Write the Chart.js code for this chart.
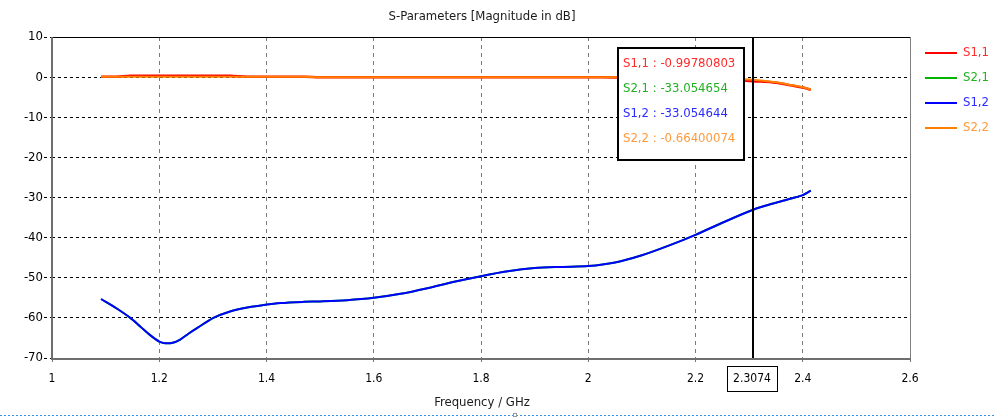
<!DOCTYPE html>
<html>
<head>
<meta charset="utf-8">
<title>S-Parameters</title>
<script src="https://cdn.jsdelivr.net/npm/chart.js@4/dist/chart.umd.min.js"></script>
<style>
  html, body { margin: 0; padding: 0; background: #ffffff; }
  #wrap { position: relative; width: 995px; height: 419px; }
</style>
</head>
<body>
<div id="wrap"><canvas id="chart" width="995" height="419"></canvas></div>
<script>
// Frequency samples (GHz)
const freq = [1.0915, 1.12, 1.146, 1.165, 1.183, 1.2, 1.211, 1.225, 1.239, 1.255,
  1.271, 1.301, 1.332, 1.364, 1.394, 1.426, 1.47, 1.5, 1.55, 1.6,
  1.65, 1.7, 1.75, 1.8, 1.85, 1.9, 1.95, 2.0, 2.05, 2.1,
  2.15, 2.2, 2.25, 2.3074, 2.35, 2.38, 2.4, 2.415];

// Magnitudes in dB
const s11 = [0.1, 0.12, 0.35, 0.35, 0.35, 0.35, 0.35, 0.35, 0.35, 0.35,
  0.35, 0.35, 0.35, 0.1, 0.1, 0.1, 0.1, -0.05, -0.05, -0.05,
  -0.05, -0.05, -0.05, -0.05, -0.05, -0.05, -0.05, -0.05, -0.07, -0.09,
  -0.12, -0.2, -0.45, -0.99780803, -1.4, -2.1, -2.6, -3.15];

const s21 = [-55.3, -57.6, -60.0, -62.2, -64.3, -65.9, -66.3, -66.2, -65.4, -63.9,
  -62.5, -60.0, -58.4, -57.4, -56.8, -56.3, -56.0, -55.9, -55.6, -55.0,
  -54.0, -52.6, -51.0, -49.6, -48.4, -47.6, -47.3, -47.1, -46.2, -44.4,
  -42.0, -39.3, -36.3, -33.054654, -31.3, -30.2, -29.4, -28.3];

const s12 = [-55.3, -57.6, -60.0, -62.2, -64.3, -65.9, -66.3, -66.2, -65.4, -63.9,
  -62.5, -60.0, -58.4, -57.4, -56.8, -56.3, -56.0, -55.9, -55.6, -55.0,
  -54.0, -52.6, -51.0, -49.6, -48.4, -47.6, -47.3, -47.1, -46.2, -44.4,
  -42.0, -39.3, -36.3, -33.054644, -31.3, -30.2, -29.4, -28.3];

const s22 = [0.1, 0.1, 0.1, 0.1, 0.1, 0.1, 0.1, 0.1, 0.1, 0.1,
  0.1, 0.1, 0.1, 0.1, 0.1, 0.1, 0.1, -0.05, -0.05, -0.05,
  -0.05, -0.05, -0.05, -0.05, -0.05, -0.05, -0.05, -0.05, -0.06, -0.08,
  -0.1, -0.15, -0.35, -0.66400074, -1.3, -2.0, -2.5, -3.1];

const seriesNames = ['S1,1', 'S2,1', 'S1,2', 'S2,2'];
const lineColors = ['#ff0000', '#00b400', '#0000ff', '#ff8000'];
const textColors = ['#ff2a2a', '#22b022', '#2a2aff', '#ff9a3c'];

// Marker frequency for the readout
const markerFreq = 2.3074;
const markerIndex = freq.indexOf(markerFreq);

const xTicks = { min: 1, max: 2.6, step: 0.2 };
const yTicks = { min: -70, max: 10, step: 10 };

const FONT = "'DejaVu Sans Condensed', 'DejaVu Sans', sans-serif";

function toPoints(vals) {
  return freq.map((f, i) => ({ x: f, y: vals[i] }));
}
const allSeries = [s11, s21, s12, s22];

// Frame, marker line, readout box, legend and captions
const decorations = {
  id: 'decorations',
  afterDatasetsDraw(chart) {
    const { ctx, chartArea: a, scales } = chart;
    const cx = Math.round(scales.x.getPixelForValue(markerFreq));
    ctx.save();

    // plot frame
    ctx.setLineDash([]);
    ctx.strokeStyle = '#000000';
    ctx.lineWidth = 1;
    ctx.beginPath();
    ctx.moveTo(a.left, a.top + 0.5);
    ctx.lineTo(a.right, a.top + 0.5);
    ctx.stroke();
    ctx.strokeStyle = '#808080';
    ctx.beginPath();
    ctx.moveTo(a.right + 0.5, a.top);
    ctx.lineTo(a.right + 0.5, a.bottom);
    ctx.stroke();
    ctx.strokeStyle = '#6e6e6e';
    ctx.lineWidth = 2;
    ctx.beginPath();
    ctx.moveTo(a.left, a.top);
    ctx.lineTo(a.left, a.bottom + 1);
    ctx.lineTo(a.right + 1, a.bottom + 1);
    ctx.stroke();

    // marker line
    ctx.strokeStyle = '#000000';
    ctx.lineWidth = 2;
    ctx.beginPath();
    ctx.moveTo(cx, a.top);
    ctx.lineTo(cx, a.bottom);
    ctx.stroke();

    // readout box
    const bw = 126, bh = 112;
    const bx = cx - 9 - bw, by = a.top + 11;
    ctx.fillStyle = '#ffffff';
    ctx.fillRect(bx, by, bw, bh);
    ctx.strokeStyle = '#000000';
    ctx.lineWidth = 2;
    ctx.strokeRect(bx, by, bw, bh);
    ctx.font = '13px ' + FONT;
    ctx.textBaseline = 'middle';
    ctx.textAlign = 'left';
    allSeries.forEach((vals, i) => {
      ctx.fillStyle = textColors[i];
      ctx.fillText(seriesNames[i] + ' : ' + String(vals[markerIndex]), bx + 5, by + 16 + i * 24.8);
    });

    // marker value on the frequency axis
    ctx.font = '12px ' + FONT;
    const label = String(markerFreq);
    const lw = 50, lh = 25;
    ctx.fillStyle = '#ffffff';
    ctx.fillRect(cx - 26, a.bottom + 8, lw, lh);
    ctx.strokeStyle = '#000000';
    ctx.lineWidth = 1;
    ctx.strokeRect(cx - 26 + 0.5, a.bottom + 8.5, lw, lh);
    ctx.fillStyle = '#000000';
    ctx.textAlign = 'center';
    ctx.fillText(label, cx - 1, a.bottom + 21);

    // legend
    ctx.font = '13px ' + FONT;
    ctx.textAlign = 'left';
    allSeries.forEach((vals, i) => {
      const ly = 53 + i * 25;
      ctx.strokeStyle = lineColors[i];
      ctx.lineWidth = 2;
      ctx.beginPath();
      ctx.moveTo(925, ly);
      ctx.lineTo(957, ly);
      ctx.stroke();
      ctx.fillStyle = textColors[i];
      ctx.fillText(seriesNames[i], 963, ly);
    });

    // title and axis caption
    const mid = (a.left + a.right) / 2;
    ctx.fillStyle = '#1a1a1a';
    ctx.textAlign = 'center';
    ctx.font = '13px ' + FONT;
    ctx.fillText('S-Parameters [Magnitude in dB]', mid + 1, 17);
    ctx.fillText('Frequency / GHz', mid + 1, 403);

    // dotted separator at the bottom
    ctx.strokeStyle = '#3a8ee6';
    ctx.lineWidth = 1;
    ctx.setLineDash([2, 2]);
    ctx.beginPath();
    ctx.moveTo(0, 415.5);
    ctx.lineTo(995, 415.5);
    ctx.stroke();
    ctx.setLineDash([]);
    ctx.strokeStyle = '#9a9a9a';
    ctx.strokeRect(513.5, 413.5, 3, 3);

    ctx.restore();
  }
};

const datasets = allSeries.map((vals, i) => ({
  label: seriesNames[i],
  data: toPoints(vals),
  borderColor: lineColors[i],
  backgroundColor: lineColors[i],
  borderWidth: i === 0 ? 2.5 : 2,
  pointRadius: 0,
  tension: 0.3,
  fill: false,
  order: i === 3 ? 0 : (i === 2 ? 1 : (i === 0 ? 2 : 3))
}));

new Chart(document.getElementById('chart'), {
  type: 'line',
  data: { datasets },
  options: {
    responsive: false,
    animation: false,
    events: [],
    layout: { padding: { left: 0, right: 85, top: 37, bottom: 0 } },
    plugins: {
      legend: { display: false },
      title: { display: false },
      tooltip: { enabled: false }
    },
    scales: {
      x: {
        type: 'linear',
        min: xTicks.min,
        max: xTicks.max,
        afterFit(scale) { scale.height = 61; },
        ticks: {
          stepSize: xTicks.step,
          color: '#000000',
          padding: 6,
          font: { family: FONT, size: 12 },
          maxRotation: 0,
          callback: v => String(Number(v.toFixed(1)))
        },
        grid: {
          color: '#7a7a7a',
          lineWidth: 1,
          tickLength: 8,
          tickColor: '#7a7a7a',
          tickBorderDash: [4, 4]
        },
        border: { display: false, dash: [4, 4] }
      },
      y: {
        type: 'linear',
        min: yTicks.min,
        max: yTicks.max,
        afterFit(scale) { scale.width = 52; },
        ticks: {
          stepSize: yTicks.step,
          color: '#000000',
          padding: 1,
          font: { family: FONT, size: 13 }
        },
        grid: {
          color: '#000000',
          lineWidth: 1,
          tickLength: 8,
          tickColor: '#000000',
          tickBorderDash: [3, 3]
        },
        border: { display: false, dash: [3, 3] }
      }
    }
  },
  plugins: [decorations]
});
</script>
</body>
</html>
